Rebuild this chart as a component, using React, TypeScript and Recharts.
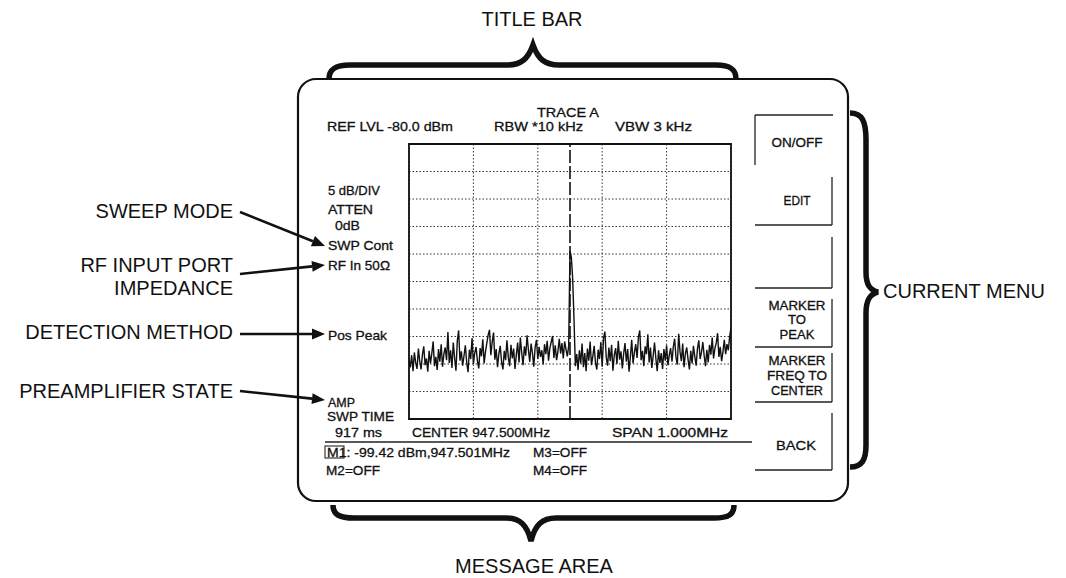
import React from "react";
import {
  CartesianGrid,
  Line,
  LineChart,
  ReferenceArea,
  ReferenceLine,
  XAxis,
  YAxis,
} from "recharts";

const FONT = "'Liberation Sans', Arial, Helvetica, sans-serif";

// sweep setup (center 947.5 MHz, span 1 MHz, ref -80 dBm, 5 dB/div)
const FREQ_START = 947.0;
const FREQ_CENTER = 947.5;
const FREQ_STOP = 948.0;
const REF_LEVEL = -80;
const BOTTOM_LEVEL = -130;

const FREQ_TICKS = [947.0, 947.1, 947.2, 947.3, 947.4, 947.5, 947.6, 947.7, 947.8, 947.9, 948.0];
const LEVEL_TICKS = [-130, -125, -120, -115, -110, -105, -100, -95, -90, -85, -80];

// marker M1 reading, drawn as the trace point at center
const MARKER_LEVEL = -99.42;

// trace, left half (947.0 .. 947.5 MHz)
const TRACE_LEFT = [
  -119.2, -120.6, -118.4, -121.3, -117.9, -119.8, -120.9, -117.2, -119.5, -121.0,
  -118.3, -116.8, -120.2, -119.0, -121.4, -117.6, -119.9, -118.1, -115.9, -120.4,
  -118.7, -121.1, -117.3, -119.6, -116.4, -120.5, -118.2, -117.0, -119.3, -114.2,
  -119.8, -117.5, -120.7, -116.1, -118.9, -121.2, -115.8, -113.9, -119.4, -117.7,
  -120.3, -118.5, -116.6, -119.7, -121.5, -117.4, -119.1, -115.3, -120.0, -118.0,
  -116.9, -119.5, -120.8, -117.1, -118.6, -115.5, -119.9, -117.8, -116.2, -114.7,
  -113.8, -118.4, -116.0, -114.3, -119.2, -117.3, -120.6, -118.1, -116.7, -119.6,
  -121.0, -117.6, -119.3, -115.7, -118.8, -120.4, -116.5, -119.0, -117.2, -120.9,
  -118.3, -116.1, -119.7, -115.2, -117.9, -120.2, -116.8, -118.5, -114.8, -117.4,
  -119.6, -116.3, -118.0, -120.5, -117.0, -115.6, -119.1, -116.9, -118.7, -117.5,
  -120.1, -116.4, -118.2, -115.8, -119.4, -117.1, -116.0, -114.9, -118.9, -116.6,
  -119.3, -117.7, -115.4, -118.1, -116.2, -119.0, -115.9, -117.3, -118.6, -116.8,
];

// right half (947.5 .. 948.0 MHz)
const TRACE_RIGHT = [
  -100.6, -104.5, -112.0, -120.4, -118.2, -121.1, -117.5, -119.9, -116.3, -120.6,
  -118.0, -121.3, -117.2, -119.4, -115.9, -120.2, -118.6, -116.7, -119.8, -121.0,
  -117.4, -119.1, -116.0, -120.5, -115.3, -114.1, -118.8, -120.3, -117.0, -119.5,
  -116.5, -121.2, -118.4, -117.1, -120.0, -115.8, -119.2, -117.7, -120.8, -118.1,
  -116.2, -119.6, -117.3, -121.4, -118.7, -115.6, -119.9, -117.9, -116.4, -118.9,
  -115.1, -113.9, -119.3, -117.6, -120.4, -116.8, -118.2, -114.6, -119.7, -117.0,
  -120.7, -118.5, -116.1, -119.0, -121.3, -117.5, -119.8, -118.0, -120.9, -117.3,
  -119.4, -116.6, -120.2, -118.4, -117.1, -119.6, -116.9, -115.4, -118.8, -120.1,
  -114.5, -117.8, -119.5, -116.3, -120.6, -118.1, -117.0, -119.2, -121.0, -117.6,
  -119.9, -116.7, -118.6, -120.3, -117.2, -115.7, -119.1, -117.9, -116.0, -118.5,
  -120.4, -117.4, -119.7, -116.5, -118.3, -115.2, -119.0, -117.1, -116.2, -114.4,
  -118.7, -116.9, -119.5, -117.8, -115.6, -118.2, -116.4, -117.5, -115.0, -113.4,
];

const traceData = [
  ...TRACE_LEFT.map((amp, i) => ({
    f: FREQ_START + (i * (FREQ_CENTER - FREQ_START)) / TRACE_LEFT.length,
    amp,
  })),
  { f: FREQ_CENTER, amp: MARKER_LEVEL },
  ...TRACE_RIGHT.map((amp, i) => ({
    f: FREQ_CENTER + ((i + 1) * (FREQ_STOP - FREQ_CENTER)) / TRACE_RIGHT.length,
    amp,
  })),
];

// small instrument-screen text, squeezed to the width seen on the scan
function ScreenText({ x, y, w, anchor = "start", children }: any) {
  return (
    <text
      x={x}
      y={y}
      textLength={w}
      lengthAdjust="spacingAndGlyphs"
      textAnchor={anchor}
      fontFamily={FONT}
      fontSize={13}
      fill="#111"
      stroke="#111"
      strokeWidth={0.3}
    >
      {children}
    </text>
  );
}

function Callout({ x, y, anchor = "end", children }: any) {
  return (
    <text x={x} y={y} textAnchor={anchor} fontFamily={FONT} fontSize={20} fill="#111">
      {children}
    </text>
  );
}

function Arrow({ x1, y1, x2, y2 }: any) {
  const len = Math.hypot(x2 - x1, y2 - y1);
  const ux = (x2 - x1) / len;
  const uy = (y2 - y1) / len;
  const hl = 13;
  const hw = 5.5;
  const bx = x2 - ux * hl;
  const by = y2 - uy * hl;
  const pts = `${x2},${y2} ${bx - uy * hw},${by + ux * hw} ${bx + uy * hw},${by - ux * hw}`;
  return (
    <g>
      <line x1={x1} y1={y1} x2={bx} y2={by} stroke="#111" strokeWidth={2.6} />
      <polygon points={pts} fill="#111" />
    </g>
  );
}

function SoftKeys() {
  const ln = { stroke: "#222", strokeWidth: 1.3 };
  return (
    <g>
      {/* ON/OFF key is drawn pressed: top + left edges */}
      <line x1={755} y1={115} x2={833} y2={115} {...ln} />
      <line x1={755} y1={115} x2={755} y2={165} {...ln} />
      {[
        [177, 225],
        [237, 288],
        [299, 347],
        [353, 402],
        [413, 470],
      ].map(([t, b]) => (
        <g key={t}>
          <line x1={832} y1={t} x2={832} y2={b} {...ln} />
          <line x1={755} y1={b} x2={832} y2={b} {...ln} />
        </g>
      ))}
      <ScreenText x={797} y={147} w={51} anchor="middle">ON/OFF</ScreenText>
      <ScreenText x={797} y={205} w={27} anchor="middle">EDIT</ScreenText>
      <ScreenText x={797} y={310} w={57} anchor="middle">MARKER</ScreenText>
      <ScreenText x={797} y={324} w={18} anchor="middle">TO</ScreenText>
      <ScreenText x={797} y={339} w={35} anchor="middle">PEAK</ScreenText>
      <ScreenText x={797} y={365} w={57} anchor="middle">MARKER</ScreenText>
      <ScreenText x={797} y={380} w={60} anchor="middle">FREQ TO</ScreenText>
      <ScreenText x={797} y={395} w={52} anchor="middle">CENTER</ScreenText>
      <ScreenText x={796} y={450} w={40} anchor="middle">BACK</ScreenText>
    </g>
  );
}

function Overlay() {
  const brace = { fill: "none", stroke: "#111", strokeWidth: 5.5, strokeLinecap: "butt" as const };
  return (
    <svg
      width={1066}
      height={578}
      style={{ position: "absolute", left: 0, top: 0, pointerEvents: "none" }}
    >
      {/* screen outline */}
      <rect x={298} y={79} width={550} height={422} rx={18} fill="none" stroke="#111" strokeWidth={2.2} />

      {/* braces */}
      <path
        d="M329,79 C329,69 336,65 350,65 L507,65 C521,65 528,59 533,45 C538,59 545,65 559,65 L716,65 C730,65 736,69 736,79"
        {...brace}
      />
      <path
        d="M333,505 C333,515 340,518 354,518 L506,518 C520,518 527,525 531,541 C535,525 542,518 556,518 L714,518 C728,518 734,515 734,505"
        {...brace}
      />
      <path
        d="M850,113 C862,113 866,121 866,140 L866,272 C866,285 870,290 878,292 C870,294 866,300 866,313 L866,445 C866,460 862,467 850,467"
        {...brace}
      />

      {/* callouts */}
      <Callout x={532} y={26} anchor="middle">TITLE BAR</Callout>
      <Callout x={534} y={573} anchor="middle">MESSAGE AREA</Callout>
      <Callout x={883} y={298} anchor="start">CURRENT MENU</Callout>
      <Callout x={233} y={218}>SWEEP MODE</Callout>
      <Callout x={233} y={272}>RF INPUT PORT</Callout>
      <Callout x={233} y={295}>IMPEDANCE</Callout>
      <Callout x={233} y={339}>DETECTION METHOD</Callout>
      <Callout x={233} y={398}>PREAMPLIFIER STATE</Callout>

      <Arrow x1={240} y1={212} x2={325} y2={246} />
      <Arrow x1={240} y1={274} x2={325} y2={265} />
      <Arrow x1={240} y1={334} x2={325} y2={334} />
      <Arrow x1={240} y1={391} x2={325} y2={400} />

      {/* header */}
      <ScreenText x={537} y={117} w={62}>TRACE A</ScreenText>
      <ScreenText x={327} y={131} w={126}>REF LVL -80.0 dBm</ScreenText>
      <ScreenText x={494} y={131} w={89}>RBW  *10 kHz</ScreenText>
      <ScreenText x={615} y={131} w={77}>VBW  3 kHz</ScreenText>

      {/* left status column */}
      <ScreenText x={328} y={195} w={52}>5 dB/DIV</ScreenText>
      <ScreenText x={328} y={214} w={45}>ATTEN</ScreenText>
      <ScreenText x={335} y={230} w={25}>0dB</ScreenText>
      <ScreenText x={328} y={250} w={65}>SWP Cont</ScreenText>
      <ScreenText x={328} y={270} w={62}>RF In 50Ω</ScreenText>
      <ScreenText x={328} y={340} w={59}>Pos Peak</ScreenText>
      <ScreenText x={328} y={407} w={27}>AMP</ScreenText>
      <ScreenText x={327} y={421} w={67}>SWP TIME</ScreenText>
      <ScreenText x={335} y={437} w={47}>917 ms</ScreenText>

      {/* bottom of graticule */}
      <ScreenText x={412} y={437} w={138}>CENTER 947.500MHz</ScreenText>
      <ScreenText x={612} y={437} w={116}>SPAN  1.000MHz</ScreenText>
      <line x1={325} y1={442} x2={752} y2={442} stroke="#222" strokeWidth={1.3} />

      {/* message area */}
      <rect x={325} y={446} width={19} height={12} fill="none" stroke="#111" strokeWidth={1} />
      <ScreenText x={327} y={457} w={183}>M1: -99.42 dBm,947.501MHz</ScreenText>
      <ScreenText x={533} y={457} w={54}>M3=OFF</ScreenText>
      <ScreenText x={326} y={475} w={54}>M2=OFF</ScreenText>
      <ScreenText x={533} y={475} w={54}>M4=OFF</ScreenText>

      <SoftKeys />
    </svg>
  );
}

export default function App() {
  return (
    <div
      style={{
        position: "absolute",
        left: 0,
        top: 0,
        width: 1066,
        height: 578,
        background: "#fff",
        fontFamily: FONT,
      }}
    >
      <LineChart
        width={1066}
        height={578}
        data={traceData}
        margin={{ top: 144, right: 335, bottom: 159, left: 409 }}
      >
        <XAxis
          dataKey="f"
          type="number"
          domain={[FREQ_START, FREQ_STOP]}
          ticks={FREQ_TICKS}
          allowDataOverflow
          hide
        />
        <YAxis
          type="number"
          domain={[BOTTOM_LEVEL, REF_LEVEL]}
          ticks={LEVEL_TICKS}
          allowDataOverflow
          hide
        />
        <CartesianGrid stroke="#333" strokeDasharray="1.5 2" strokeWidth={1} />
        <ReferenceArea
          x1={FREQ_START}
          x2={FREQ_STOP}
          y1={BOTTOM_LEVEL}
          y2={REF_LEVEL}
          fill="none"
          fillOpacity={0}
          stroke="#111"
          strokeWidth={1.8}
        />
        <ReferenceLine x={FREQ_CENTER} stroke="#111" strokeWidth={1.6} strokeDasharray="13 3" />
        <Line
          dataKey="amp"
          type="linear"
          stroke="#111"
          strokeWidth={1.4}
          dot={false}
          isAnimationActive={false}
        />
      </LineChart>
      <Overlay />
    </div>
  );
}
